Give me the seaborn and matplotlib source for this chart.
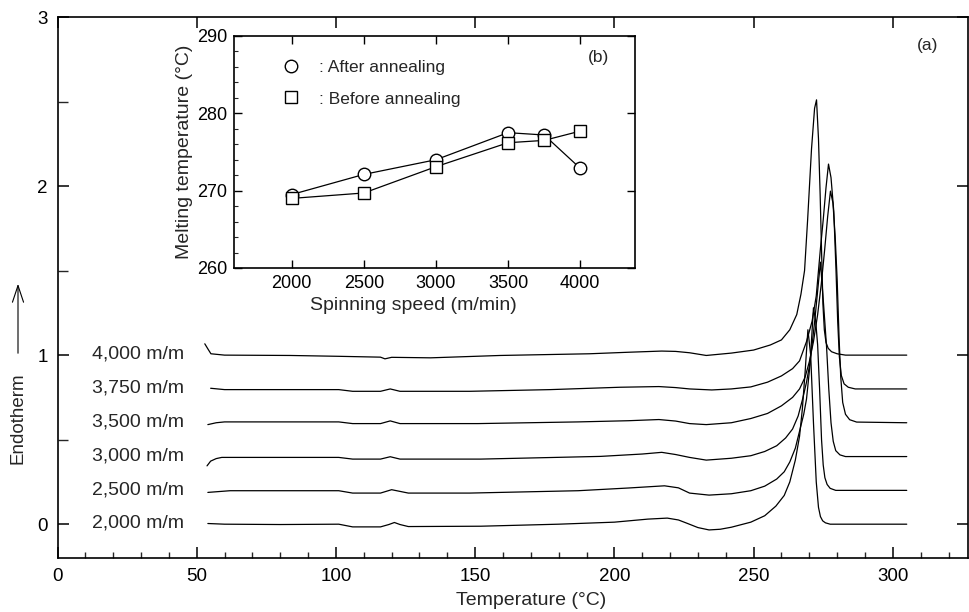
import numpy as np
import pandas as pd
import matplotlib
matplotlib.use("Agg")
import matplotlib.pyplot as plt
from matplotlib.lines import Line2D
from matplotlib.ticker import MultipleLocator
import seaborn as sns

# ---------------- data ----------------
speed_labels = ["2,000 m/m", "2,500 m/m", "3,000 m/m", "3,500 m/m", "3,750 m/m", "4,000 m/m"]
offsets = [0.0, 0.2, 0.4, 0.6, 0.8, 1.0]

t_2000 = [54, 60, 80, 101, 106, 116, 119, 121, 123, 126, 152, 180, 200, 212, 219, 223, 226, 230, 234, 238, 242,
          249, 254, 258, 261, 263, 265, 266.5, 267.5, 268.5, 269.5, 270.5, 271.5, 272.5, 273.3, 274.0, 274.8,
          275.8, 277.5, 305]
h_2000 = [.004, 0, -.002, 0, -.016, -.016, -.002, .010, -.002, -.014, -.012, 0, .012, .030, .036, .025, .006, -.02,
          -.034, -.03, -.018, .012, .05, .107, .17, .25, .38, .52, .68, .90, 1.15, 1.0, .6, .25, .10, .045, .02,
          .008, 0, 0]

t_2500 = [54, 62, 101, 106, 116, 120, 126, 148, 187, 205, 218, 223, 227, 234, 242, 249, 254, 258.3, 261, 263, 265,
          266.5, 268, 269, 270.3, 271.5, 272.3, 273, 273.7, 274.4, 275.0, 275.6, 276.4, 277.5, 279.5, 305]
h_2500 = [-.012, -.002, -.002, -.016, -.016, .004, -.016, -.016, -.002, .014, .027, .015, -.016, -.028, -.02, -.002,
          .025, .067, .11, .168, .25, .35, .45, .54, .75, 1.08, 1.0, .86, .6, .3, .15, .075, .035, .012, 0, 0]

t_3000 = [53.7, 55, 57, 59, 101, 106, 116, 119.5, 123, 152, 195, 210, 217, 222, 227, 233, 242, 249, 254, 258.3,
          261.5, 264, 266, 267.6, 269, 270.1, 271, 272, 273, 274, 275, 276.2, 277, 277.8, 278.6, 279.5, 281,
          283, 305]
h_3000 = [-.055, -.027, -.012, -.005, -.005, -.015, -.015, -.001, -.015, -.015, .001, .015, .025, .012, -.005, -.021,
          -.01, .005, .03, .064, .11, .163, .24, .34, .44, .54, .66, .81, .98, 1.15, .93, .65, .40, .20, .09, .035,
          .01, 0, 0]

t_3500 = [54, 57, 60, 101, 106, 116, 119.5, 123, 151, 187, 205, 216, 222, 227, 233, 242, 249, 255, 260, 264, 266.5,
          268.5, 270, 271.5, 273, 274.3, 275.5, 276.6, 277.6, 278.5, 279.3, 280, 280.7, 281.3, 282, 283, 284.5,
          287, 305]
h_3500 = [-.011, 0, .005, .005, -.005, -.005, .011, -.005, -.005, .005, .012, .019, .010, -.005, -.011, 0, .025, .055,
          .10, .15, .20, .27, .36, .48, .64, .82, 1.02, 1.22, 1.37, 1.30, 1.10, .85, .50, .27, .12, .05, .018,
          .004, 0]

t_3750 = [55, 60, 101, 106, 116, 119.5, 123, 148, 177, 202, 216, 222, 227, 235, 242, 249, 255, 260, 264, 266.5, 269,
          271, 272.5, 274, 275, 276, 276.9, 277.8, 278.8, 279.6, 280.2, 280.8, 281.5, 282.5, 284, 286.5, 305]
h_3750 = [.004, -.004, -.004, -.014, -.014, 0, -.014, -.014, -.004, .010, .014, .008, 0, -.006, 0, .012, .04, .077,
          .12, .166, .28, .40, .55, .83, 1.0, 1.19, 1.33, 1.25, 1.05, .70, .40, .19, .08, .03, .01, 0, 0]

t_4000 = [52.9, 54, 55.1, 60, 83.5, 101, 116, 117.6, 120, 134, 159, 191, 205, 217, 222, 227, 233, 242, 250, 256, 260,
          263, 265.5, 267, 268.3, 269.4, 270.8, 271.9, 272.6, 273.3, 273.9, 274.4, 274.9, 275.4, 276.0, 276.8,
          278, 280, 283, 305]
h_4000 = [.067, .037, .008, 0, -.002, -.007, -.012, -.022, -.013, -.016, -.002, .008, .017, .024, .022, .014, -.002,
          .012, .03, .06, .09, .15, .24, .36, .50, .80, 1.22, 1.46, 1.51, 1.28, .95, .62, .30, .15, .075, .04,
          .02, .008, 0, 0]

# inset (b)
spin_speed = [2000, 2500, 3000, 3500, 3750, 4000]
tm_after = [269.5, 272.1, 274.0, 277.5, 277.2, 272.9]
tm_before = [269.0, 269.7, 273.1, 276.2, 276.5, 277.7]

x_ticks = [0, 50, 100, 150, 200, 250, 300]
y_ticks = [0, 1, 2, 3]
inset_x_ticks = [2000, 2500, 3000, 3500, 4000]
inset_y_ticks = [260, 270, 280, 290]

# ---------------- build tables ----------------
temps = [t_2000, t_2500, t_3000, t_3500, t_3750, t_4000]
heats = [h_2000, h_2500, h_3000, h_3500, h_3750, h_4000]
rows = []
for lab, off, ts, hs in zip(speed_labels, offsets, temps, heats):
    for t, h in zip(ts, hs):
        rows.append({"speed": lab, "T": t, "E": h + off})
dsc = pd.DataFrame(rows)

tm = pd.DataFrame({"speed": spin_speed * 2,
                   "Tm": tm_after + tm_before,
                   "cond": ["after"] * 6 + ["before"] * 6})

# ---------------- figure ----------------
sns.set_theme(style="ticks")
plt.rcParams["font.family"] = ["Liberation Sans", "DejaVu Sans"]
plt.rcParams["axes.linewidth"] = 1.2

W, H = 969, 612
fig = plt.figure(figsize=(W / 100, H / 100), dpi=100)

def fx(px):
    return px / W

def fy(py):
    return 1 - py / H

ax = fig.add_axes([fx(57.5), fy(558), fx(968) - fx(57.5), fy(17) - fy(558)])
sns.lineplot(data=dsc, x="T", y="E", units="speed", estimator=None, sort=False,
             color="black", lw=0.9, ax=ax, legend=False)
ax.set_xlim(0, 327)
ax.set_ylim(-0.2, 3)
ax.set_xticks(x_ticks)
ax.set_yticks(y_ticks)
ax.xaxis.set_minor_locator(MultipleLocator(10))
ax.yaxis.set_minor_locator(MultipleLocator(0.5))
ax.tick_params(which="major", direction="in", top=True, right=True, length=8, width=1.1,
               labelsize=13.5, colors="black", pad=7)
ax.tick_params(which="minor", direction="in", top=False, right=False, length=4, width=1.0)
ax.tick_params(axis="y", which="minor", length=7)
ax.set_xlabel("Temperature (°C)", fontsize=14)
ax.xaxis.set_label_coords(0.52, -0.062)
ax.set_ylabel("")
for s in ax.spines.values():
    s.set_color("black")

for lab, off in zip(speed_labels, offsets):
    ax.text(45.5, off + 0.005, lab, ha="right", va="center", fontsize=14)

ax.text(0.956, 0.948, "(a)", transform=ax.transAxes, ha="center", va="center", fontsize=12.5)

# y label with arrow
fig.text(fx(18), fy(418), "Endotherm", rotation=90, ha="center", va="center", fontsize=13.5)
fig.patches.append(matplotlib.patches.FancyArrowPatch(
    (fx(18), fy(356)), (fx(18), fy(281)), transform=fig.transFigure,
    arrowstyle="->,head_length=12,head_width=4", lw=0.8, color="black", mutation_scale=1))

# ---------------- inset ----------------
ax2 = fig.add_axes([fx(234), fy(268), fx(635) - fx(234), fy(36) - fy(268)])
sns.lineplot(data=tm[tm.cond == "after"], x="speed", y="Tm", marker="o", ms=9, mfc="white", mec="black",
             mew=1.0, color="black", lw=0.9, ax=ax2, legend=False)
sns.lineplot(data=tm[tm.cond == "before"], x="speed", y="Tm", marker="s", ms=8, mfc="white", mec="black",
             mew=1.0, color="black", lw=0.9, ax=ax2, legend=False)
ax2.set_xlim(1600, 4380)
ax2.set_ylim(260, 290)
ax2.set_xticks(inset_x_ticks)
ax2.set_yticks(inset_y_ticks)
ax2.yaxis.set_minor_locator(MultipleLocator(2))
ax2.tick_params(which="major", direction="in", top=True, right=True, length=6, width=1.0,
                labelsize=13, colors="black", pad=5)
ax2.tick_params(which="minor", direction="in", top=False, right=False, length=3, width=0.8)
ax2.set_xlabel("Spinning speed (m/min)", fontsize=14)
ax2.xaxis.set_label_coords(0.447, -0.125)
ax2.set_ylabel("Melting temperature (°C)", fontsize=14, labelpad=3)
for s in ax2.spines.values():
    s.set_color("black")

handles = [Line2D([], [], marker="o", ls="none", ms=9, mfc="white", mec="black", mew=1.0),
           Line2D([], [], marker="s", ls="none", ms=8, mfc="white", mec="black", mew=1.0)]
ax2.legend(handles, [": After annealing", ": Before annealing"], loc="upper left",
           bbox_to_anchor=(0.087, 0.95), frameon=False, fontsize=12.5, handlelength=1.2,
           handletextpad=1.0, labelspacing=0.95, borderpad=0.2)
ax2.text(0.908, 0.909, "(b)", transform=ax2.transAxes, ha="center", va="center", fontsize=12.5)

fig.savefig("out.png", dpi=100)
